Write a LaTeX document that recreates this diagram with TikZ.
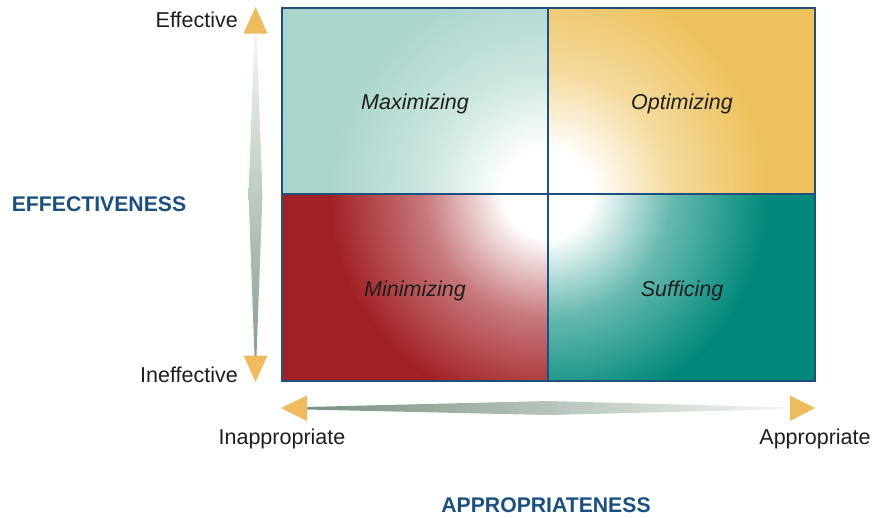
\documentclass[tikz,border=0pt]{standalone}
\usepackage{fontspec}
\setmainfont{Liberation Sans}
\definecolor{tlcol}{HTML}{A9D5CB}
\definecolor{trcol}{HTML}{EDC15C}
\definecolor{blcol}{HTML}{A21F24}
\definecolor{brcol}{HTML}{00897A}
\definecolor{gridblue}{HTML}{1F4F7F}
\definecolor{headblue}{HTML}{1B4F7F}
\definecolor{tipgold}{HTML}{EEBB5E}
\definecolor{shaftdark}{HTML}{86A190}
\definecolor{shaftlight}{HTML}{F4F6F3}
\definecolor{txtgray}{HTML}{1E1E1E}
\colorlet{qcol}{tlcol}
\pgfdeclareradialshading[qcol]{quadshade}{\pgfpoint{0bp}{0bp}}{color(0bp)=(white); color(5bp)=(white); color(14bp)=(qcol!60!white); color(25bp)=(qcol); color(50bp)=(qcol)}
\tikzset{
  lab/.style={font=\fontsize{21.5}{25}\selectfont, text=txtgray, inner sep=0pt},
  qlab/.style={font=\fontsize{21.5}{25}\selectfont\itshape, text=txtgray, inner sep=0pt},
  head/.style={font=\fontsize{21.2}{25}\selectfont\bfseries, text=headblue, inner sep=0pt},
  tip/.style={fill=tipgold, draw=none},
  gridline/.style={draw=gridblue, line width=1.5pt}
}
\begin{document}
\begin{tikzpicture}[x=1pt,y=-1pt]
\useasboundingbox (0,0) rectangle (882,517);
% quadrants
\begin{scope}
  \clip (282,8) rectangle (548,194);
  \fill[tlcol] (282,8) rectangle (548,194);
  \colorlet{qcol}{tlcol}
  \shade[shading=quadshade] (548,194) circle (220pt);
\end{scope}
\begin{scope}
  \clip (548,8) rectangle (815,194);
  \fill[trcol] (548,8) rectangle (815,194);
  \colorlet{qcol}{trcol}
  \shade[shading=quadshade] (548,194) circle (220pt);
\end{scope}
\begin{scope}
  \clip (282,194) rectangle (548,381);
  \fill[blcol] (282,194) rectangle (548,381);
  \colorlet{qcol}{blcol}
  \shade[shading=quadshade] (548,194) circle (220pt);
\end{scope}
\begin{scope}
  \clip (548,194) rectangle (815,381);
  \fill[brcol] (548,194) rectangle (815,381);
  \colorlet{qcol}{brcol}
  \shade[shading=quadshade] (548,194) circle (220pt);
\end{scope}
\draw[gridline] (282,8) rectangle (815,381);
\draw[gridline] (548,8) -- (548,381);
\draw[gridline] (282,194) -- (815,194);
% quadrant labels
\node[qlab] (maxi) at (415,104) {Maximizing};
\node[qlab] (opti) at (682,104) {Optimizing};
\node[qlab] (mini) at (415,291) {Minimizing};
\node[qlab] (suff) at (682,291) {Sufficing};
% vertical arrow
\shade[top color=shaftlight, bottom color=shaftdark]
  (254.5,33) -- (256.5,33) -- (262.5,194) -- (256.5,356) -- (254.5,356) -- (248.5,194) -- cycle;
\fill[tip] (255.5,7) -- (267.5,33.5) -- (243.5,33.5) -- cycle;
\fill[tip] (255.5,382) -- (267.5,355.5) -- (243.5,355.5) -- cycle;
% horizontal arrow
\shade[left color=shaftdark!90!black, right color=shaftlight]
  (306,407) -- (306,409.5) -- (548,415) -- (791,409) -- (791,407.5) -- (548,401) -- cycle;
\fill[tip] (281,408) -- (307,395.5) -- (307,421) -- cycle;
\fill[tip] (815,408) -- (790,395.5) -- (790,421) -- cycle;
% axis labels
\node[lab, anchor=east] (eff) at (238,20) {Effective};
\node[lab, anchor=east] (ineff) at (238,375) {Ineffective};
\node[lab] (inapp) at (282,439) {Inappropriate};
\node[lab] (app) at (815,439) {Appropriate};
\node[head] (effness) at (99,204) {EFFECTIVENESS};
\node[head] (appness) at (546,505) {APPROPRIATENESS};
\end{tikzpicture}
\end{document}
